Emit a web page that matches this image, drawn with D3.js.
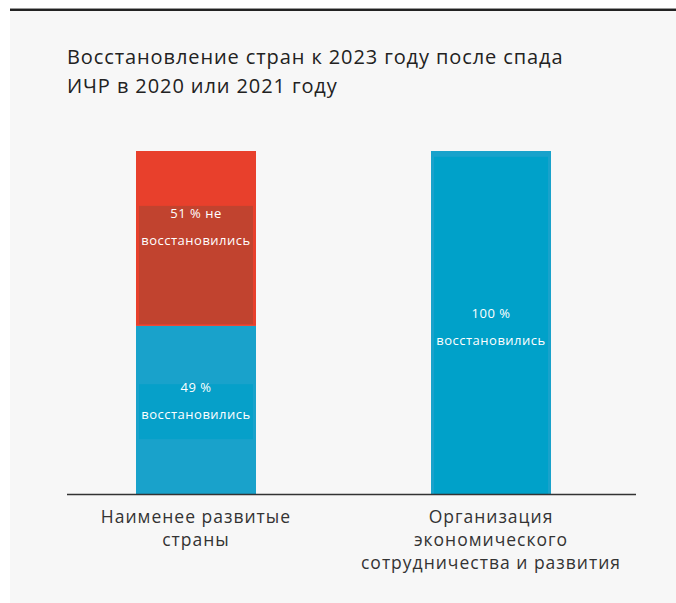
<!DOCTYPE html>
<html><head><meta charset="utf-8">
<script src="https://cdn.jsdelivr.net/npm/d3@7"></script>
<style>body{margin:0;background:#fff;font-family:"Open Sans",sans-serif;}</style>
</head><body><div id="chart"></div>
<script>
const categories = [["Наименее развитые","страны"],["Организация","экономического","сотрудничества и развития"]];
const recovered = [49, 100];
const notRecovered = [51, 0];
const recLabels = [["49 %","восстановились"],["100 %","восстановились"]];
const notRecLabels = [["51 % не","восстановились"], null];
const titleLines = ["Восстановление стран к 2023 году после спада","ИЧР в 2020 или 2021 году"];

const W=676,H=603;
const svg=d3.select("#chart").append("svg").attr("width",W).attr("height",H);
svg.append("rect").attr("x",10).attr("y",8).attr("width",W-10).attr("height",H-8).attr("fill","#f7f7f7");
svg.append("rect").attr("x",10).attr("y",8).attr("width",W-10).attr("height",1).attr("fill","#999");
svg.append("rect").attr("x",10).attr("y",9).attr("width",W-10).attr("height",2).attr("fill","#222");

const title=svg.append("text").attr("x",67).attr("y",64).attr("font-size",20).attr("letter-spacing",0.9).attr("fill","#222");
title.selectAll("tspan").data(titleLines).join("tspan").attr("x",67).attr("dy",(d,i)=>i?29:0).text(d=>d);

const xc=d3.scalePoint().domain([0,1]).range([196,491]);
const bw=120;
const y=d3.scaleLinear().domain([0,100]).range([494,151]);

const g=svg.append("g");
[0,1].forEach(i=>{
  const cx=xc(i);
  g.append("rect").attr("x",cx-bw/2).attr("width",bw).attr("y",y(recovered[i])).attr("height",y(0)-y(recovered[i])).attr("fill","#19a2cb");
  if(notRecovered[i]>0){
    g.append("rect").attr("x",cx-bw/2).attr("width",bw).attr("y",y(100)).attr("height",y(recovered[i])-y(100)).attr("fill","#e8402c");
  }
});
const c0=xc(0), c1=xc(1);
g.append("rect").attr("x",c0-57).attr("width",114).attr("y",y(84)).attr("height",y(49.5)-y(84)).attr("fill","#c1432f");
g.append("rect").attr("x",c0-57).attr("width",114).attr("y",y(32)).attr("height",y(16)-y(32)).attr("fill","#06a0c9");
g.append("rect").attr("x",c1-57).attr("width",114).attr("y",y(98.3)).attr("height",y(0)-y(98.3)).attr("fill","#00a1c9");

function label(cx,yTop,lines){
  g.append("text").attr("text-anchor","middle").attr("font-size",13).attr("letter-spacing",0.5).attr("fill","#fff")
   .selectAll("tspan").data(lines).join("tspan").attr("x",cx).attr("y",(d,i)=>yTop+i*26.5).text(d=>d);
}
label(c0,218,notRecLabels[0]);
label(c0,392,recLabels[0]);
label(c1,318,recLabels[1]);

svg.append("line").attr("x1",67).attr("x2",636).attr("y1",494.5).attr("y2",494.5).attr("stroke","#333").attr("stroke-width",1.5);

categories.forEach((lines,i)=>{
  svg.append("text").attr("text-anchor","middle").attr("font-size",17.5).attr("letter-spacing",1.0).attr("fill","#333")
   .selectAll("tspan").data(lines).join("tspan").attr("x",xc(i)).attr("y",(d,j)=>523+j*23).text(d=>d);
});
</script></body></html>
